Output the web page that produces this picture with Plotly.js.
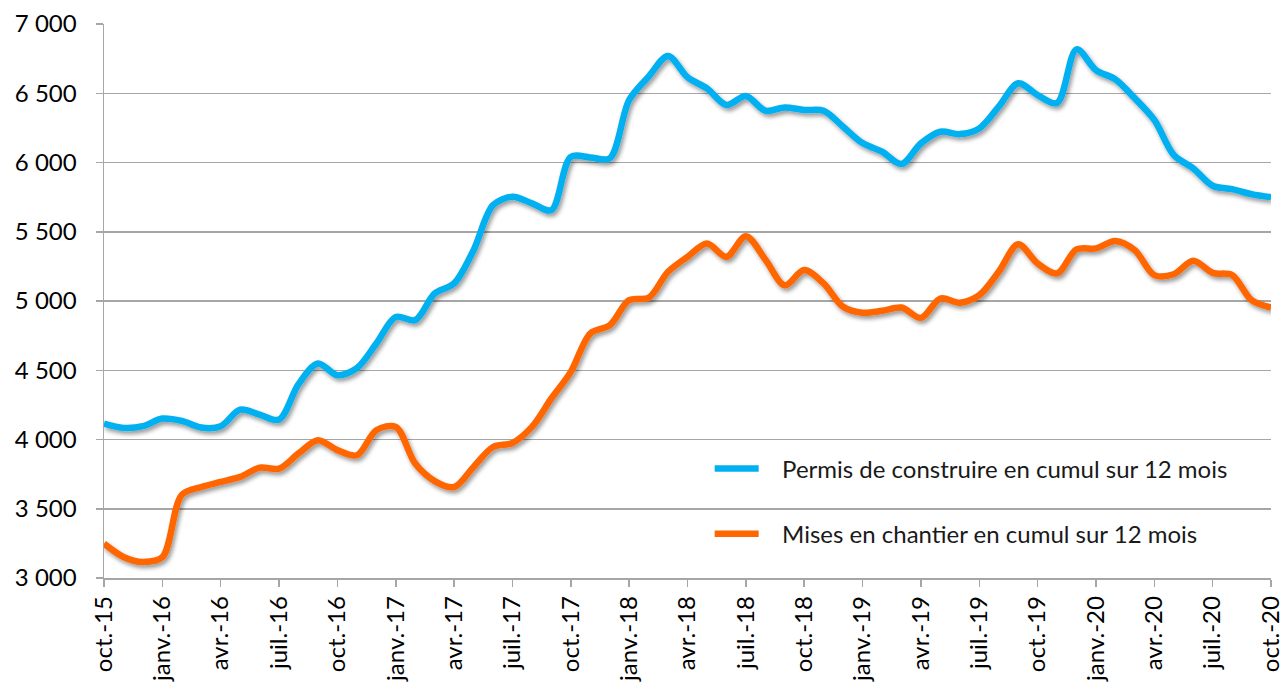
<!DOCTYPE html>
<html>
<head>
<meta charset="utf-8">
<script src="https://cdn.plot.ly/plotly-3.0.1.min.js"></script>
<style>
  html, body { margin: 0; padding: 0; background: #ffffff; }
  #chart { width: 1284px; height: 687px; }
</style>
</head>
<body>
<div id="chart"></div>
<script>
// Month categories (oct. 2015 -> oct. 2020)
const months = [
  "oct.-15","nov.-15","déc.-15",
  "janv.-16","févr.-16","mars-16","avr.-16","mai-16","juin-16","juil.-16","août-16","sept.-16","oct.-16","nov.-16","déc.-16",
  "janv.-17","févr.-17","mars-17","avr.-17","mai-17","juin-17","juil.-17","août-17","sept.-17","oct.-17","nov.-17","déc.-17",
  "janv.-18","févr.-18","mars-18","avr.-18","mai-18","juin-18","juil.-18","août-18","sept.-18","oct.-18","nov.-18","déc.-18",
  "janv.-19","févr.-19","mars-19","avr.-19","mai-19","juin-19","juil.-19","août-19","sept.-19","oct.-19","nov.-19","déc.-19",
  "janv.-20","févr.-20","mars-20","avr.-20","mai-20","juin-20","juil.-20","août-20","sept.-20","oct.-20"
];

// Tick labels shown on the x axis (every quarter)
const tickLabels = [
  "oct.-15","janv.-16","avr.-16","juil.-16","oct.-16","janv.-17","avr.-17","juil.-17","oct.-17",
  "janv.-18","avr.-18","juil.-18","oct.-18","janv.-19","avr.-19","juil.-19","oct.-19",
  "janv.-20","avr.-20","juil.-20","oct.-20"
];

// Permis de construire en cumul sur 12 mois
const permis = [
  4115, 4084, 4096,
  4151, 4134, 4086, 4096, 4216, 4180, 4144, 4400, 4549, 4464, 4515, 4693,
  4885, 4862, 5054, 5127, 5367, 5692, 5752, 5705, 5656, 6041, 6037, 6030,
  6451, 6620, 6769, 6615, 6535, 6415, 6480, 6374, 6398, 6379, 6374, 6258,
  6140, 6078, 5989, 6138, 6222, 6205, 6246, 6403, 6572, 6487, 6430, 6817,
  6667, 6600, 6463, 6307, 6054, 5958, 5832, 5808, 5772, 5750
];

// Mises en chantier en cumul sur 12 mois
const mises = [
  3248, 3152, 3116,
  3150, 3600, 3657, 3694, 3730, 3797, 3790, 3899, 3995, 3923, 3886, 4067,
  4091, 3826, 3700, 3657, 3802, 3946, 3975, 4091, 4296, 4488, 4765, 4825,
  5006, 5023, 5211, 5319, 5416, 5319, 5468, 5300, 5114, 5223, 5127, 4958,
  4915, 4929, 4953, 4878, 5018, 4987, 5042, 5211, 5410, 5271, 5199, 5372,
  5380, 5434, 5367, 5187, 5193, 5290, 5203, 5187, 5006, 4953
];

const seriesNames = [
  "Permis de construire en cumul sur 12 mois",
  "Mises en chantier en cumul sur 12 mois"
];

const FONT = "Lato, 'Open Sans', sans-serif";
const GRID = "#a6a6a6";
const GAP = "\u00a0\u00a0\u00a0";

const traces = [
  {
    x: months, y: permis, name: GAP + seriesNames[0], type: "scatter", mode: "lines",
    line: { color: "#00b0f0", width: 6.5, shape: "spline", smoothing: 0.9 },
    legend: "legend", hoverinfo: "skip"
  },
  {
    x: months, y: mises, name: GAP + seriesNames[1], type: "scatter", mode: "lines",
    line: { color: "#ff6600", width: 6.5, shape: "spline", smoothing: 0.9 },
    legend: "legend2", hoverinfo: "skip"
  }
];

const legendCommon = {
  xanchor: "left", yanchor: "middle",
  bgcolor: "rgba(0,0,0,0)", borderwidth: 0,
  itemwidth: 44,
  font: { family: FONT, size: 24, color: "#1a1a1a" }
};

const layout = {
  width: 1284, height: 687,
  margin: { l: 104, r: 13, t: 24, b: 109 },
  paper_bgcolor: "#ffffff", plot_bgcolor: "#ffffff",
  separators: ", ",
  font: { family: FONT, size: 24, color: "#000000" },
  xaxis: {
    type: "category",
    categoryorder: "array", categoryarray: months,
    range: [0, months.length - 1],
    tickmode: "array", tickvals: tickLabels, ticktext: tickLabels,
    tickangle: -90,
    ticks: "outside", ticklen: 7, tickwidth: 1.5, tickcolor: GRID,
    showline: true, linecolor: GRID, linewidth: 1.5,
    showgrid: false, zeroline: false,
    tickfont: { family: FONT, size: 24, color: "#000000" },
    fixedrange: true
  },
  yaxis: {
    range: [3000, 7000], dtick: 500, tick0: 3000,
    tickformat: ",d",
    ticks: "outside", ticklen: 7, tickwidth: 1.5, tickcolor: GRID,
    showline: true, linecolor: GRID, linewidth: 1.5,
    showgrid: true, gridcolor: GRID, gridwidth: 1.5,
    zeroline: false,
    ticklabelstandoff: 14,
    tickfont: { family: FONT, size: 24, color: "#000000" },
    fixedrange: true
  },
  showlegend: true,
  legend: Object.assign({}, legendCommon, { x: 0.519, y: 0.197 }),
  legend2: Object.assign({}, legendCommon, { x: 0.519, y: 0.079 })
};

Plotly.newPlot("chart", traces, layout, { staticPlot: true, displayModeBar: false }).then(function (gd) {
  const svg = gd.querySelector(".main-svg");
  const defs = svg.querySelector("defs");
  const ns = "http://www.w3.org/2000/svg";
  const filter = document.createElementNS(ns, "filter");
  filter.setAttribute("id", "lineShadow");
  filter.setAttribute("filterUnits", "userSpaceOnUse");
  filter.setAttribute("x", "-300"); filter.setAttribute("y", "-300");
  filter.setAttribute("width", "2000"); filter.setAttribute("height", "1400");
  const fe = document.createElementNS(ns, "feDropShadow");
  fe.setAttribute("dx", "2"); fe.setAttribute("dy", "3");
  fe.setAttribute("stdDeviation", "2");
  fe.setAttribute("flood-color", "#000000");
  fe.setAttribute("flood-opacity", "0.4");
  filter.appendChild(fe);
  defs.appendChild(filter);
  gd.querySelectorAll(".scatterlayer .js-line").forEach(function (p) {
    p.setAttribute("filter", "url(#lineShadow)");
  });
});
</script>
</body>
</html>
